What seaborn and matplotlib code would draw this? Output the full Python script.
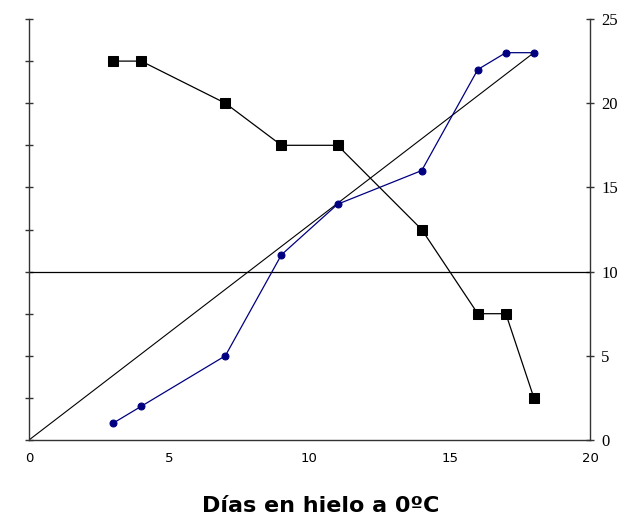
import pandas as pd
import matplotlib
matplotlib.use('Agg')
import matplotlib.pyplot as plt
import seaborn as sns

dias = [3, 4, 7, 9, 11, 14, 16, 17, 18]
serie_negra = [22.5, 22.5, 20, 17.5, 17.5, 12.5, 7.5, 7.5, 2.5]
serie_azul = [1, 2, 5, 11, 14, 16, 22, 23, 23]
diag_x = [0, 18]
diag_y = [0, 23]
linea_ref = 10
x_ticks = [0, 5, 10, 15, 20]
y_ticks = [0, 5, 10, 15, 20, 25]

df = pd.DataFrame({'dias': dias, 'negra': serie_negra, 'azul': serie_azul})

sns.set_style("white")
fig = plt.figure(figsize=(6.33, 5.17), dpi=100)
ax = fig.add_axes([29 / 633, 1 - 440 / 517, (590 - 29) / 633, (440 - 19) / 517])

ax.plot(diag_x, diag_y, color='black', linewidth=0.8)
ax.axhline(linea_ref, color='black', linewidth=0.9)
sns.lineplot(data=df, x='dias', y='azul', ax=ax, color='#000080', linewidth=0.9,
             marker='o', markersize=5, markeredgecolor='#000080')
sns.lineplot(data=df, x='dias', y='negra', ax=ax, color='black', linewidth=0.9,
             marker='s', markersize=6.5, markeredgecolor='black')

ax.set_xlim(0, 20)
ax.set_ylim(0, 25)
ax.set_xticks(x_ticks)
ax.set_yticks(y_ticks)
ax.set_yticks([v + 2.5 for v in y_ticks[:-1]], minor=True)
ax.set_xlabel('')
ax.set_ylabel('')

ax.spines['top'].set_visible(False)
for s in ['left', 'right', 'bottom']:
    ax.spines[s].set_color('#333333')
    ax.spines[s].set_linewidth(1.0)

ax.tick_params(axis='x', which='major', direction='inout', length=6, width=1,
               color='#333333', labelcolor='black', labelsize=9.5, pad=6)
ax.tick_params(axis='y', which='major', direction='inout', length=6, width=1,
               color='#333333', left=True, right=True, labelleft=False, labelright=True,
               labelcolor='black', labelsize=12, pad=5)
ax.tick_params(axis='y', which='minor', direction='inout', length=6, width=1,
               color='#333333', left=True, right=False)
for lbl in ax.get_yticklabels():
    lbl.set_fontfamily('Liberation Serif')

fig.text(321 / 633, 1 - 506 / 517, 'Días en hielo a 0ºC', ha='center', va='center',
         fontsize=16, fontweight='bold', family='DejaVu Sans', color='black')

fig.savefig('out.png', dpi=100)
